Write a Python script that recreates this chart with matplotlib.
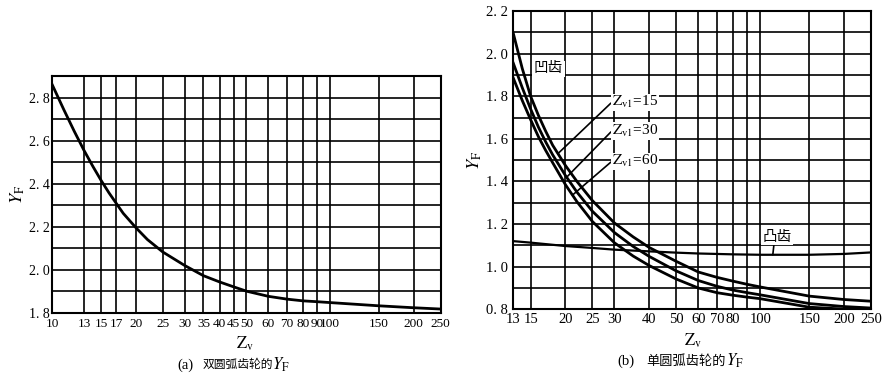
import matplotlib
matplotlib.use("Agg")
import matplotlib.pyplot as plt
import matplotlib.ticker as mticker
import numpy as np

plt.rcParams["font.family"] = ["Liberation Serif", "Noto Sans CJK SC"]
plt.rcParams["mathtext.fontset"] = "stix"

# (a) double circular-arc gear
za = [10, 11, 12, 13, 14, 15, 16, 17, 18, 20, 22, 25, 30, 35, 40, 45, 50, 60, 70, 80, 90,
      100, 150, 200, 250]
ya = [2.859, 2.744, 2.643, 2.555, 2.48, 2.414, 2.357, 2.308, 2.262, 2.195, 2.14, 2.082,
      2.019, 1.972, 1.943, 1.92, 1.90, 1.876, 1.863, 1.855, 1.851, 1.847, 1.832, 1.823, 1.817]
xt_a = [10, 13, 15, 17, 20, 25, 30, 35, 40, 45, 50, 60, 70, 80, 90, 100, 150, 200, 250]
yt_a = [1.8, 2.0, 2.2, 2.4, 2.6, 2.8]

# (b) single circular-arc gear
zb = [13, 14, 15, 16, 17, 18, 20, 22, 25, 30, 35, 40, 50, 60, 70, 80, 90, 100, 150, 200, 250]
yb15 = [2.095, 1.93, 1.80, 1.71, 1.635, 1.57, 1.475, 1.40, 1.31, 1.205, 1.14, 1.09, 1.025,
        0.975, 0.95, 0.932, 0.917, 0.905, 0.862, 0.846, 0.838]
yb30 = [1.955, 1.84, 1.74, 1.655, 1.585, 1.525, 1.428, 1.35, 1.26, 1.16, 1.095, 1.048,
        0.98, 0.935, 0.908, 0.89, 0.878, 0.868, 0.827, 0.813, 0.806]
yb60 = [1.885, 1.78, 1.69, 1.61, 1.545, 1.488, 1.385, 1.305, 1.212, 1.112, 1.05, 1.005,
        0.942, 0.90, 0.878, 0.866, 0.857, 0.85, 0.81, 0.801, 0.80]
zb_convex = [13, 15, 20, 25, 30, 40, 50, 60, 80, 100, 150, 200, 250]
yb_convex = [1.12, 1.113, 1.097, 1.088, 1.08, 1.072, 1.066, 1.062, 1.058, 1.056, 1.056, 1.06, 1.067]
xt_b = [13, 15, 20, 25, 30, 40, 50, 60, 70, 80, 90, 100, 150, 200, 250]
xl_b = ["13", "15", "20", "25", "30", "40", "50", "60", "70", "80", "", "100", "150", "200", "250"]
yt_b = [0.8, 1.0, 1.2, 1.4, 1.6, 1.8, 2.0, 2.2]


def _style(ax, xticks, xlabels, yticks, ylo, yhi, xpad, ypad, fs):
    ax.set_xscale("log")
    ax.set_xlim(xticks[0], xticks[-1])
    ax.set_ylim(ylo, yhi)
    ax.xaxis.set_major_locator(mticker.FixedLocator(xticks))
    ax.xaxis.set_major_formatter(mticker.FixedFormatter(xlabels))
    ax.xaxis.set_minor_locator(mticker.NullLocator())
    ax.yaxis.set_major_locator(mticker.FixedLocator(yticks))
    ax.yaxis.set_major_formatter(mticker.FuncFormatter(lambda v, p: f"{v:.1f}".replace(".", ". ")))
    ax.yaxis.set_minor_locator(mticker.MultipleLocator(0.1))
    ax.tick_params(which="both", length=0, labelsize=fs)
    ax.tick_params(axis="x", pad=xpad)
    ax.tick_params(axis="y", pad=ypad)
    ax.grid(True, which="both", color="black", linewidth=1.2)
    ax.set_axisbelow(True)
    for s in ax.spines.values():
        s.set_linewidth(1.5)


def _px(x, y):
    return x / 889, 1 - y / 380


fig = plt.figure(figsize=(8.89, 3.80), dpi=100)

# ---- (a)
ax = fig.add_axes([0.0588, 0.1771, 0.4369, 0.6229])
ax.plot(za, ya, color="black", lw=2.0)
_style(ax, xt_a, [str(v) for v in xt_a], yt_a, 1.8, 2.9, 3.5, 2.0, 9.5)
ax.tick_params(axis="y", labelsize=10)
ax.set_ylabel(r"$Y_{\mathrm{F}}$", fontsize=13, labelpad=1)
fig.text(*_px(245, 344), r"$\mathrm{Z}_{\mathrm{v}}$", ha="center", va="center", fontsize=12)
fig.text(*_px(193, 365), "(a)", ha="right", va="center", fontsize=10.5)
fig.text(*_px(203, 365), "双圆弧齿轮的", ha="left", va="center", fontsize=8.5)
fig.text(*_px(272, 365), r"$Y_{\mathrm{F}}$", ha="left", va="center", fontsize=12)

# ---- (b)
ax = fig.add_axes([0.5774, 0.186, 0.4024, 0.785])
for yy in (yb15, yb30, yb60):
    ax.plot(zb, yy, color="black", lw=2.0)
ax.plot(zb_convex, yb_convex, color="black", lw=1.6)
_style(ax, xt_b, xl_b, yt_b, 0.8, 2.2, 3.0, 3.6, 10.5)
ax.set_ylabel(r"$Y_{\mathrm{F}}$", fontsize=13, labelpad=2)

lzb = np.log10(zb)
for yy, z_at, txt, (tx, ty) in [
    (yb15, 18.8, "15", (29.3, 1.771)),
    (yb30, 20.2, "30", (29.3, 1.636)),
    (yb60, 21.2, "60", (29.3, 1.494)),
]:
    y_at = np.interp(np.log10(z_at), lzb, yy)
    ax.annotate(r"$\mathrm{Z}_{\mathrm{v1}}$=" + txt, xy=(z_at, y_at), xytext=(tx, ty),
                ha="left", va="center", fontsize=11,
                bbox=dict(boxstyle="square,pad=0.05", fc="white", ec="none"),
                arrowprops=dict(arrowstyle="-", color="black", lw=1.2,
                                shrinkA=0, shrinkB=0, relpos=(0, 0.5)))

ax.text(17.4, 1.93, "凹齿", ha="center", va="center", fontsize=10.5,
        bbox=dict(boxstyle="square,pad=0.1", fc="white", ec="none"))
z_cx = 111
y_cx = np.interp(np.log10(z_cx), np.log10(zb_convex), yb_convex)
ax.annotate("凸齿", xy=(z_cx, y_cx), xytext=(114.9, 1.139), ha="center", va="center",
            fontsize=10.5, bbox=dict(boxstyle="square,pad=0.1", fc="white", ec="none"),
            arrowprops=dict(arrowstyle="-", color="black", lw=1.2,
                            shrinkA=0, shrinkB=0, relpos=(0.4, 0)))

fig.text(*_px(693, 341), r"$\mathrm{Z}_{\mathrm{v}}$", ha="center", va="center", fontsize=12)
fig.text(*_px(634, 361), "(b)", ha="right", va="center", fontsize=10.5)
fig.text(*_px(646, 361), "单圆弧齿轮的", ha="left", va="center", fontsize=9.5)
fig.text(*_px(726, 361), r"$Y_{\mathrm{F}}$", ha="left", va="center", fontsize=12)

fig.savefig("out.png", dpi=100)
